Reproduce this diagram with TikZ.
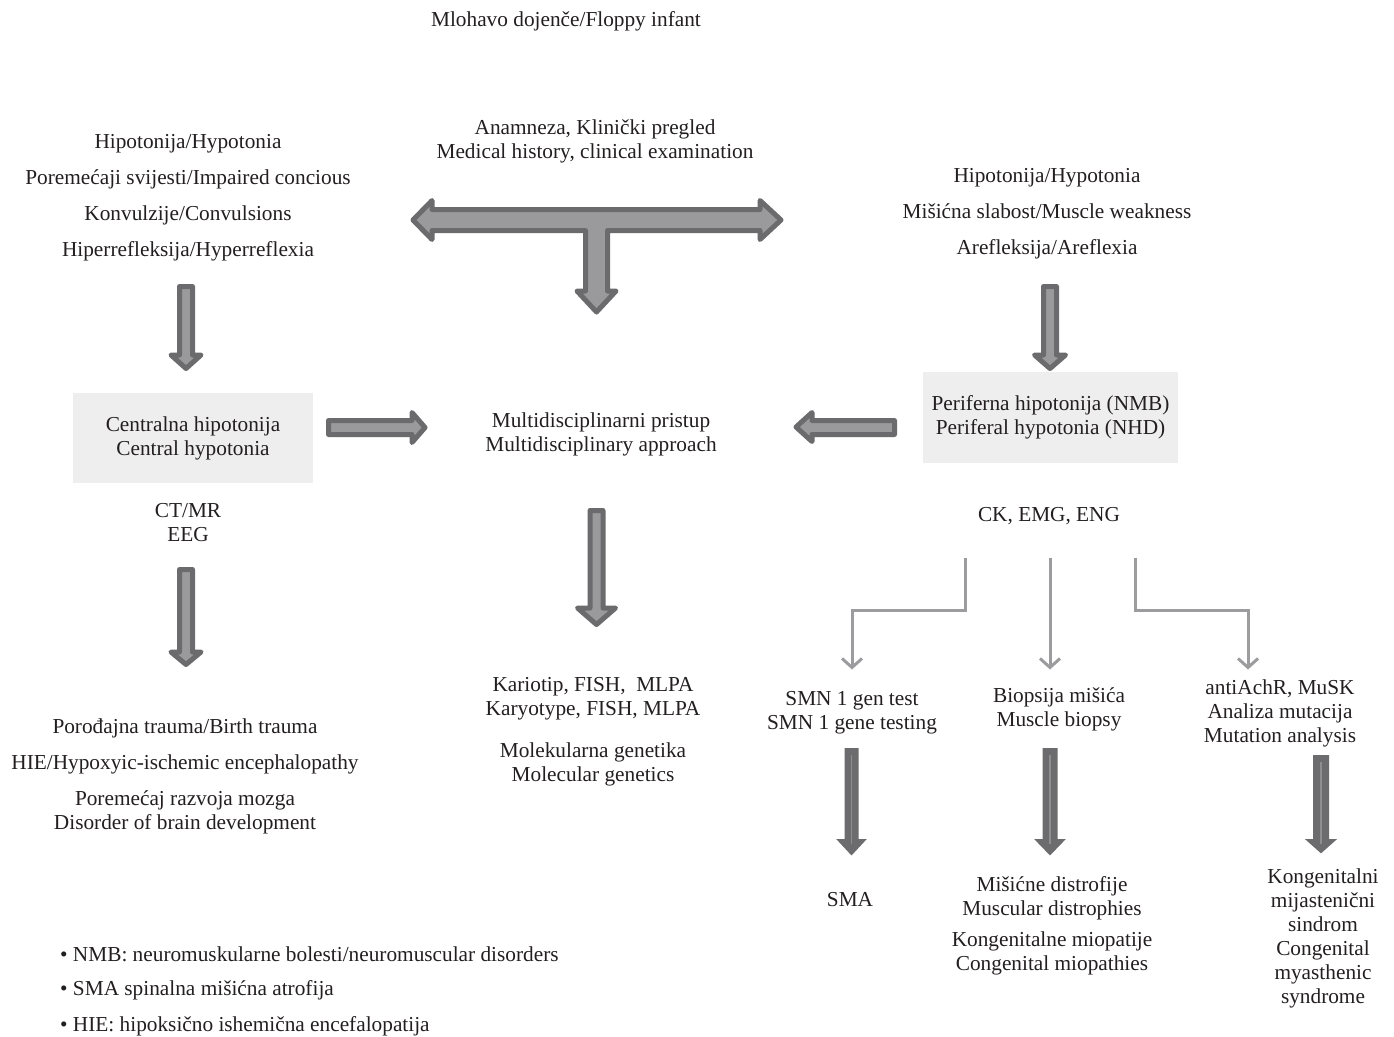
\documentclass[tikz,border=0pt]{standalone}
\usepackage{fontspec}
\setmainfont{Liberation Serif}
\usetikzlibrary{arrows.meta}
\definecolor{txt}{HTML}{231F20}
\definecolor{boxg}{HTML}{EEEEEE}
\definecolor{fatfill}{HTML}{9A9A9D}
\definecolor{fatline}{HTML}{6B6B6D}
\definecolor{darkfill}{HTML}{6C6C6E}
\definecolor{darkmid}{HTML}{8E8E90}
\definecolor{thing}{HTML}{9C9C9E}
\newcommand{\fatdown}[6]{% x, ytop, yback, ytip, shafthalf, headhalf
  \draw[fatarrow] ({#1-#5},#2) -- ({#1+#5},#2) -- ({#1+#5},#3) -- ({#1+#6},#3) -- (#1,#4) -- ({#1-#6},#3) -- ({#1-#5},#3) -- cycle;}
\newcommand{\darkdown}[6]{%
  \draw[darkarrow] ({#1-#5},#2) -- ({#1+#5},#2) -- ({#1+#5},#3) -- ({#1+#6},#3) -- (#1,#4) -- ({#1-#6},#3) -- ({#1-#5},#3) -- cycle;
  \draw[darkmid, line width=1.2pt] (#1,{#2+6}) -- (#1,{#3+4});}
\begin{document}
\begin{tikzpicture}[x=1pt,y=-1pt,
  every node/.style={text=txt, font=\fontsize{21.3}{24}\selectfont, inner sep=0pt, yshift=-2.5pt},
  txtblock/.style={align=center},
  graybox/.style={fill=boxg, align=center, yshift=2.5pt},
  fatarrow/.style={fill=fatfill, draw=fatline, line width=5pt, line join=round},
  darkarrow/.style={fill=darkfill, draw=darkfill, line width=2pt, line join=miter},
  thinarrow/.style={draw=thing, line width=3pt, -{Straight Barb[length=9pt,width=20pt,line width=3pt]}}]
\fill[white] (0,0) rectangle (1394,1036);
\useasboundingbox (0,0) rectangle (1394,1036);

\node (title) at (566,19) {Mlohavo dojenče/Floppy infant};
\node[txtblock] (leftsym) at (188,195) {Hipotonija/Hypotonia\\[12pt]Poremećaji svijesti/Impaired concious\\[12pt]Konvulzije/Convulsions\\[12pt]Hiperrefleksija/Hyperreflexia};
\node[txtblock] (anam) at (595,139) {Anamneza, Klinički pregled\\Medical history, clinical examination};
\node[txtblock] (rightsym) at (1047,211) {Hipotonija/Hypotonia\\[12pt]Mišićna slabost/Muscle weakness\\[12pt]Arefleksija/Areflexia};

\node[graybox, minimum width=240pt, minimum height=90pt] (central) at (193,438) {Centralna hipotonija\\Central hypotonia};
\node[txtblock] (multi) at (601,432) {Multidisciplinarni pristup\\Multidisciplinary approach};
\node[graybox, minimum width=255pt, minimum height=91pt] (periph) at (1050.5,417.5) {Periferna hipotonija (NMB)\\Periferal hypotonia (NHD)};

\node[txtblock] (ctmr) at (188,520) {CT/MR\\EEG};
\node (ck) at (1049,514) {CK, EMG, ENG};

\node[txtblock] (leftout) at (185,774) {Porođajna trauma/Birth trauma\\[12pt]HIE/Hypoxyic-ischemic encephalopathy\\[12pt]Poremećaj razvoja mozga\\Disorder of brain development};
\node[txtblock] (karyo) at (593,729.5) {Kariotip, FISH,\ \ MLPA\\Karyotype, FISH, MLPA\\[18pt]Molekularna genetika\\Molecular genetics};

\node[txtblock] (smn) at (852,710) {SMN 1 gen test\\SMN 1 gene testing};
\node[txtblock] (biop) at (1059,707) {Biopsija mišića\\Muscle biopsy};
\node[txtblock] (anti) at (1280,711) {antiAchR, MuSK\\Analiza mutacija\\Mutation analysis};

\node (sma) at (850,897) {SMA};
\node[txtblock] (dist) at (1052,923.5) {Mišićne distrofije\\Muscular distrophies\\[7pt]Kongenitalne miopatije\\Congenital miopathies};
\node[txtblock] (kms) at (1323,936) {Kongenitalni\\mijastenični\\sindrom\\Congenital\\myasthenic\\syndrome};

\node[anchor=west] (b1) at (60,952) {\textbullet\ NMB: neuromuskularne bolesti/neuromuscular disorders};
\node[anchor=west] (b2) at (60,988) {\textbullet\ SMA spinalna mišićna atrofija};
\node[anchor=west] (b3) at (60,1024) {\textbullet\ HIE: hipoksično ishemična encefalopatija};

% T arrow
\draw[fatarrow] (413,220) -- (432,200.5) -- (432,209.5) -- (760,209.5) -- (760,200.5) -- (781,220) -- (760,239.5) -- (760,230.5) -- (607.5,230.5) -- (607.5,291) -- (616,291) -- (596.5,312) -- (577,291) -- (585.5,291) -- (585.5,230.5) -- (432,230.5) -- (432,239.5) -- cycle;

% fat down arrows
\fatdown{186}{286.5}{355}{368.5}{6.5}{15}
\fatdown{1050}{286.5}{355}{368.5}{6.5}{15.5}
\fatdown{186}{569.5}{652}{664.5}{6.5}{15}
\fatdown{596.5}{510.5}{608}{624.5}{6.5}{19}

% horizontal fat arrows
\draw[fatarrow] (328.5,420.5) -- (412,420.5) -- (412,412.5) -- (425,427.5) -- (412,442.5) -- (412,434.5) -- (328.5,434.5) -- cycle;
\draw[fatarrow] (894.5,420.5) -- (812,420.5) -- (812,412.5) -- (796,427) -- (812,441.5) -- (812,434.5) -- (894.5,434.5) -- cycle;

% thin connectors
\coordinate (c1) at (965,555);
\coordinate (c2) at (1050,555);
\coordinate (c3) at (1135,555);
\coordinate (t1) at (852,667);
\coordinate (t2) at (1050,667);
\coordinate (t3) at (1248,667);
\draw[thinarrow] (c1) -- (965,610) -| (t1);
\draw[thinarrow] (c2) -- (t2);
\draw[thinarrow] (c3) -- (1135,610) -| (t3);

% dark arrows
\darkdown{851.5}{749}{840}{854}{6}{13}
\darkdown{1050}{749}{840}{854}{6.5}{13.5}
\darkdown{1321}{756}{840}{852}{7}{13.5}
\end{tikzpicture}
\end{document}
